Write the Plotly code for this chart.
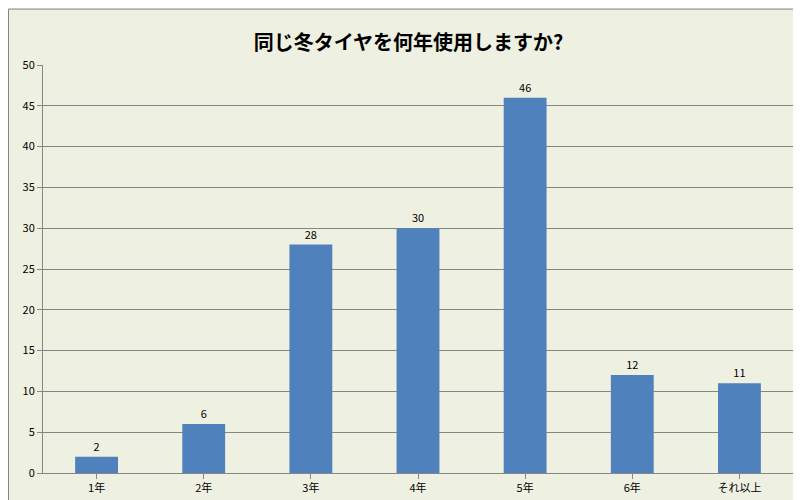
import plotly.graph_objects as go

categories = ["1年", "2年", "3年", "4年", "5年", "6年", "それ以上"]
values = [2, 6, 28, 30, 46, 12, 11]
y_ticks = [0, 5, 10, 15, 20, 25, 30, 35, 40, 45, 50]

font_jp = "Noto Sans CJK JP"

fig = go.Figure(go.Bar(
    x=categories, y=values,
    marker=dict(color="#4F81BD", line=dict(width=0)),
    text=values, textposition="outside",
    textfont=dict(size=11, color="#000000"),
    cliponaxis=False,
))

fig.update_layout(
    width=801, height=500,
    paper_bgcolor="#EEF0E1", plot_bgcolor="#EEF0E1",
    margin=dict(l=35, r=16, t=57, b=35, autoexpand=False),
    title=dict(text="<b>同じ冬タイヤを何年使用しますか?</b>", x=0.5, xanchor="center",
               y=0.945, font=dict(family=font_jp, size=20, color="#000000")),
    font=dict(family=font_jp, size=11, color="#000000"),
    showlegend=False,
    bargap=0.6,
)
fig.update_xaxes(showline=True, linecolor="#868686", ticks="outside", ticklen=5,
                 tickcolor="#868686", showgrid=False, tickfont=dict(size=11),
                 automargin=False)
fig.update_yaxes(range=[0, 50], tickvals=y_ticks, showgrid=True, gridcolor="#868686",
                 gridwidth=1, showline=True, linecolor="#868686", ticks="outside",
                 ticklen=5, tickcolor="#868686", zeroline=False, tickfont=dict(size=11),
                 automargin=False)
# outer chart border
fig.add_shape(type="rect", xref="paper", yref="paper", x0=-0.046, x1=1.02, y0=-0.084, y1=1.137,
              line=dict(color="#868686", width=1), layer="below")

fig.write_html("out.html")
